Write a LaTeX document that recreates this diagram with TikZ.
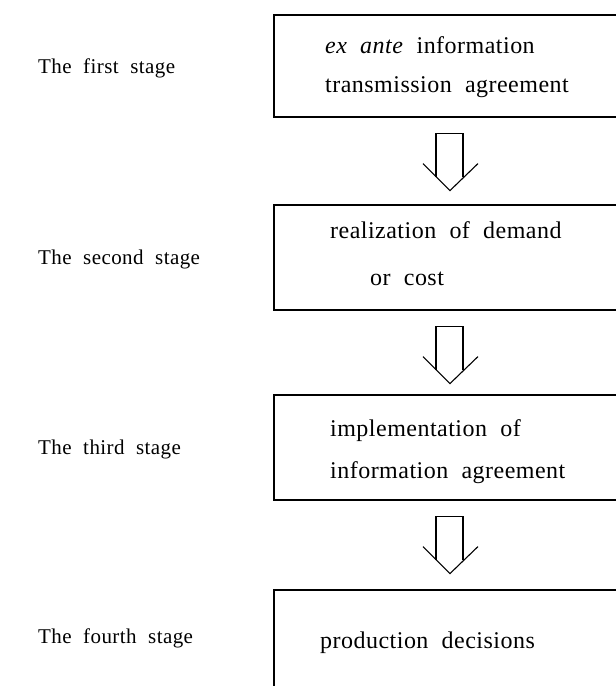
\documentclass[tikz,border=0pt]{standalone}
\usepackage{fontspec}
\setmainfont{Liberation Serif}
\newfontfamily\spacedserif[LetterSpace=2]{Liberation Serif}
\usetikzlibrary{calc}
\newcommand{\widesp}{\spaceskip=0.55em\relax}
\tikzset{
  stagebox/.style={draw, line width=1.1pt, rectangle, minimum width=366pt, inner sep=0pt},
  lbl/.style={anchor=base west, inner sep=0pt, font={\spacedserif\fontsize{21}{25}\selectfont\widesp}},
  boxtxt/.style={anchor=base west, inner sep=0pt, font={\spacedserif\fontsize{24}{28}\selectfont\widesp}},
  harrow/.style={line width=1.1pt, line join=miter}
}
\newcommand{\hollowarrow}[1]{%
  \draw[harrow, shift={(#1)}] (-14,59.5) -- (-14,16) -- (13,16) -- (13,59.5);
  \draw[harrow, shift={(#1)}] (-27,46) -- (0,73) -- (28,46);
}
\begin{document}
\begin{tikzpicture}[x=1pt, y=-1pt]
\useasboundingbox (0,0) rectangle (616,686);
\clip (0,0) rectangle (616,686);
% boxes
\node[stagebox, minimum height=102pt] (b1) at (457,66) {};
\node[stagebox, minimum height=105pt] (b2) at (457,257.5) {};
\node[stagebox, minimum height=105pt] (b3) at (457,447.5) {};
\node[stagebox, minimum height=130pt] (b4) at (457,655) {};
% stage labels
\node[lbl] (l1) at (38,73) {The first stage};
\node[lbl] (l2) at (38,264) {The second stage};
\node[lbl] (l3) at (38,454) {The third stage};
\node[lbl] (l4) at (38,643) {The fourth stage};
% box texts
\node[boxtxt] (t1a) at (325,53) {\textit{ex ante} information};
\node[boxtxt] (t1b) at (325,92) {transmission agreement};
\node[boxtxt] (t2a) at (330,238) {realization of demand};
\node[boxtxt] (t2b) at (370,285) {or cost};
\node[boxtxt] (t3a) at (330,436) {implementation of};
\node[boxtxt] (t3b) at (330,478) {information agreement};
\node[boxtxt] (t4) at (320,648) {production decisions};
% arrows
\coordinate (a1) at (b1.south -| 450,0);
\coordinate (a2) at (b2.south -| 450,0);
\coordinate (a3) at (b3.south -| 450,0);
\hollowarrow{a1}
\hollowarrow{a2}
\hollowarrow{a3}
\end{tikzpicture}
\end{document}
